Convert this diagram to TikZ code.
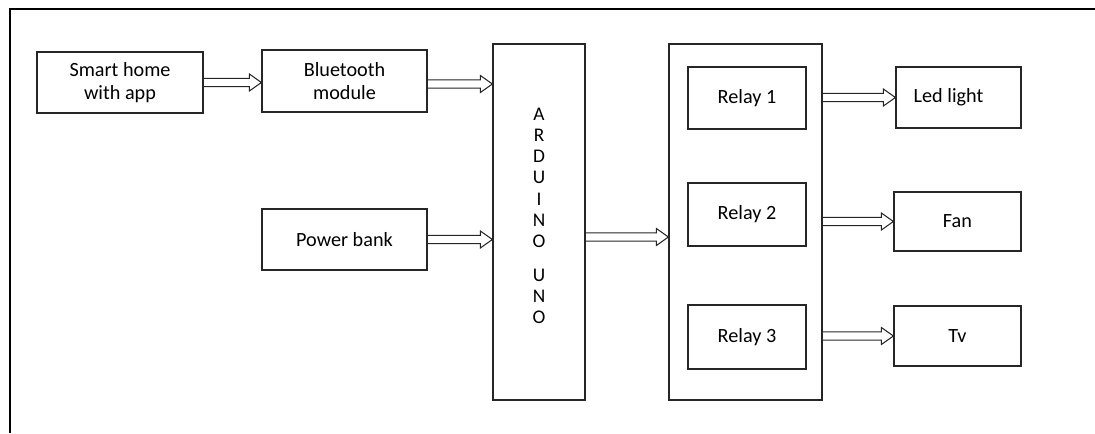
\documentclass[tikz,border=0pt]{standalone}
\usepackage{fontspec}
\setmainfont{Carlito}
\usetikzlibrary{calc}

\begin{document}
\begin{tikzpicture}[x=0.02cm, y=-0.02cm,
  blk/.style={draw=black!85, line width=0.7pt, font=\fontsize{11.5pt}{13.5pt}\selectfont, align=center, inner sep=0pt},
  arr/.style={draw=black!85, line width=0.6pt, line join=miter,
    to path={let \p1=(\tikztostart), \p2=(\tikztotarget) in
      (\x1,{\y1+2.3pt}) -- ({\x2-6.8pt},{\y1+2.3pt}) -- ({\x2-6.8pt},{\y1+4.8pt}) -- (\x2,\y1)
      -- ({\x2-6.8pt},{\y1-4.8pt}) -- ({\x2-6.8pt},{\y1-2.3pt}) -- (\x1,{\y1-2.3pt})}}]
\useasboundingbox (0,0) rectangle (1095,433);
% Draw outer frame
\draw[line width=1.4pt] (10,433) -- (10,9) -- (1095,9);

% Draw input blocks
\node[blk, minimum width=3.32cm, minimum height=1.22cm] (app) at (120,82.5) {Smart home\\with app};
\node[blk, minimum width=3.3cm, minimum height=1.24cm] (bt) at (344.5,81) {Bluetooth\\module};
\node[blk, minimum width=3.3cm, minimum height=1.22cm] (pw) at (344.5,239.5) {Power bank};

% Draw controller
\node[blk, minimum width=1.84cm, minimum height=7.12cm, font=\fontsize{11pt}{12.1pt}\selectfont] (ard) at (539,222)
  {A\\R\\D\\U\\I\\N\\O\\[7pt]U\\N\\O\\[-5pt]};

% Draw relay board
\node[blk, minimum width=3.06cm, minimum height=7.12cm] (rel) at (745.5,222) {};
\node[blk, minimum width=2.36cm, minimum height=1.24cm] (r1) at (747,98) {Relay 1};
\node[blk, minimum width=2.36cm, minimum height=1.26cm] (r2) at (747,214.5) {Relay 2};
\node[blk, minimum width=2.36cm, minimum height=1.28cm] (r3) at (747,337) {Relay 3};

% Draw loads
\node[blk, minimum width=2.5cm, minimum height=1.22cm] (led) at (958.5,97.5) {Led light\hspace*{0.4cm}};
\node[blk, minimum width=2.54cm, minimum height=1.18cm] (fan) at (957.5,221.5) {Fan};
\node[blk, minimum width=2.54cm, minimum height=1.2cm] (tv) at (957.5,336) {Tv};

% Draw hollow arrows
\draw[arr] (app.east) to (bt.west |- app.east);
\draw[arr] ([yshift=-0.06cm]bt.east) to ([yshift=-0.06cm]bt.east -| ard.west);
\draw[arr] (pw.east) to (pw.east -| ard.west);
\draw[arr] ([yshift=-0.3cm]ard.east) to ([yshift=-0.3cm]rel.west);
\draw[arr] (led.west -| rel.east) to (led.west);
\draw[arr] (fan.west -| rel.east) to (fan.west);
\draw[arr] (tv.west -| rel.east) to (tv.west);
\end{tikzpicture}
\end{document}
